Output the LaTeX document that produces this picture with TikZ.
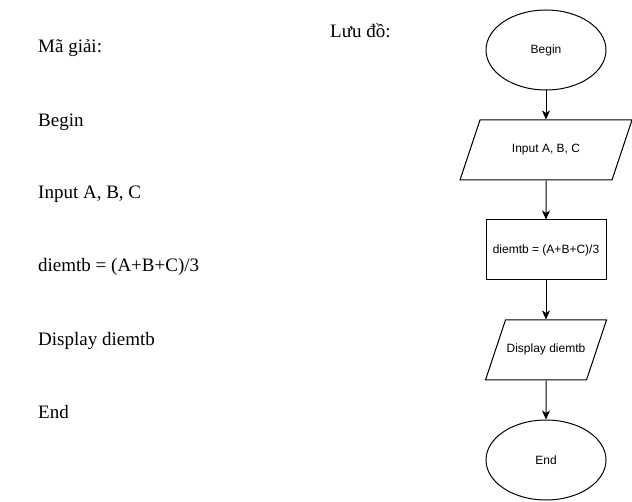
\documentclass[tikz,border=0pt]{standalone}
\usepackage{fontspec}
\setmainfont{Liberation Serif}
\newfontfamily\chartfont{Liberation Sans}
\usetikzlibrary{shapes.geometric,arrows.meta}
\newcommand{\codeSize}[0]{\fontsize{19}{23}\selectfont}
\newcommand{\boxSize}[0]{\fontsize{12}{14}\selectfont}

\begin{document}
\begin{tikzpicture}[x=1pt, y=-1pt]
  \tikzset{code line/.style={anchor=base west, inner sep=0pt, font=\codeSize},
    chart/.style={draw, line width=1pt, inner sep=0pt, font=\chartfont\boxSize},
    terminal/.style={chart, ellipse, minimum width=120pt, minimum height=80pt},
    io/.style={chart, trapezium, trapezium left angle=71.57, trapezium right angle=108.43,
      trapezium stretches body, text height=9pt, text depth=3pt, inner ysep=24pt},
    process/.style={chart, rectangle, minimum width=120pt, minimum height=60pt},
    flow/.style={-{Stealth[length=9pt, width=8pt, inset=2.5pt]}, line width=1pt}}
  \useasboundingbox (0,0) rectangle (632,502);
  % left column
  \node[code line] (M-0) at (38,53) {Mã giải:};
  \node[code line] (M-1) at (38,127) {Begin};
  \node[code line] (M-2) at (38,199) {Input A, B, C};
  \node[code line] (M-3) at (38,272) {diemtb = (A+B+C)/3};
  \node[code line] (M-4) at (38,346) {Display diemtb};
  \node[code line] (M-5) at (38,419) {End};
  % flowchart
  \node[code line] (L-0) at (330,38) {Lưu đồ:};
  \node[terminal] (F-1) at (546,50) {Begin};
  \node[io, minimum width=172pt] (F-2) at (546,150) {Input A, B, C};
  \node[process] (F-3) at (546,250) {diemtb = (A+B+C)/3};
  \node[io, minimum width=121pt] (F-4) at (546,350) {Display diemtb};
  \node[terminal] (F-5) at (546,460) {End};
  \draw[flow] (F-1) -- (F-2);
  \draw[flow] (F-2) -- (F-3);
  \draw[flow] (F-3) -- (F-4);
  \draw[flow] (F-4) -- (F-5);
\end{tikzpicture}
\end{document}
